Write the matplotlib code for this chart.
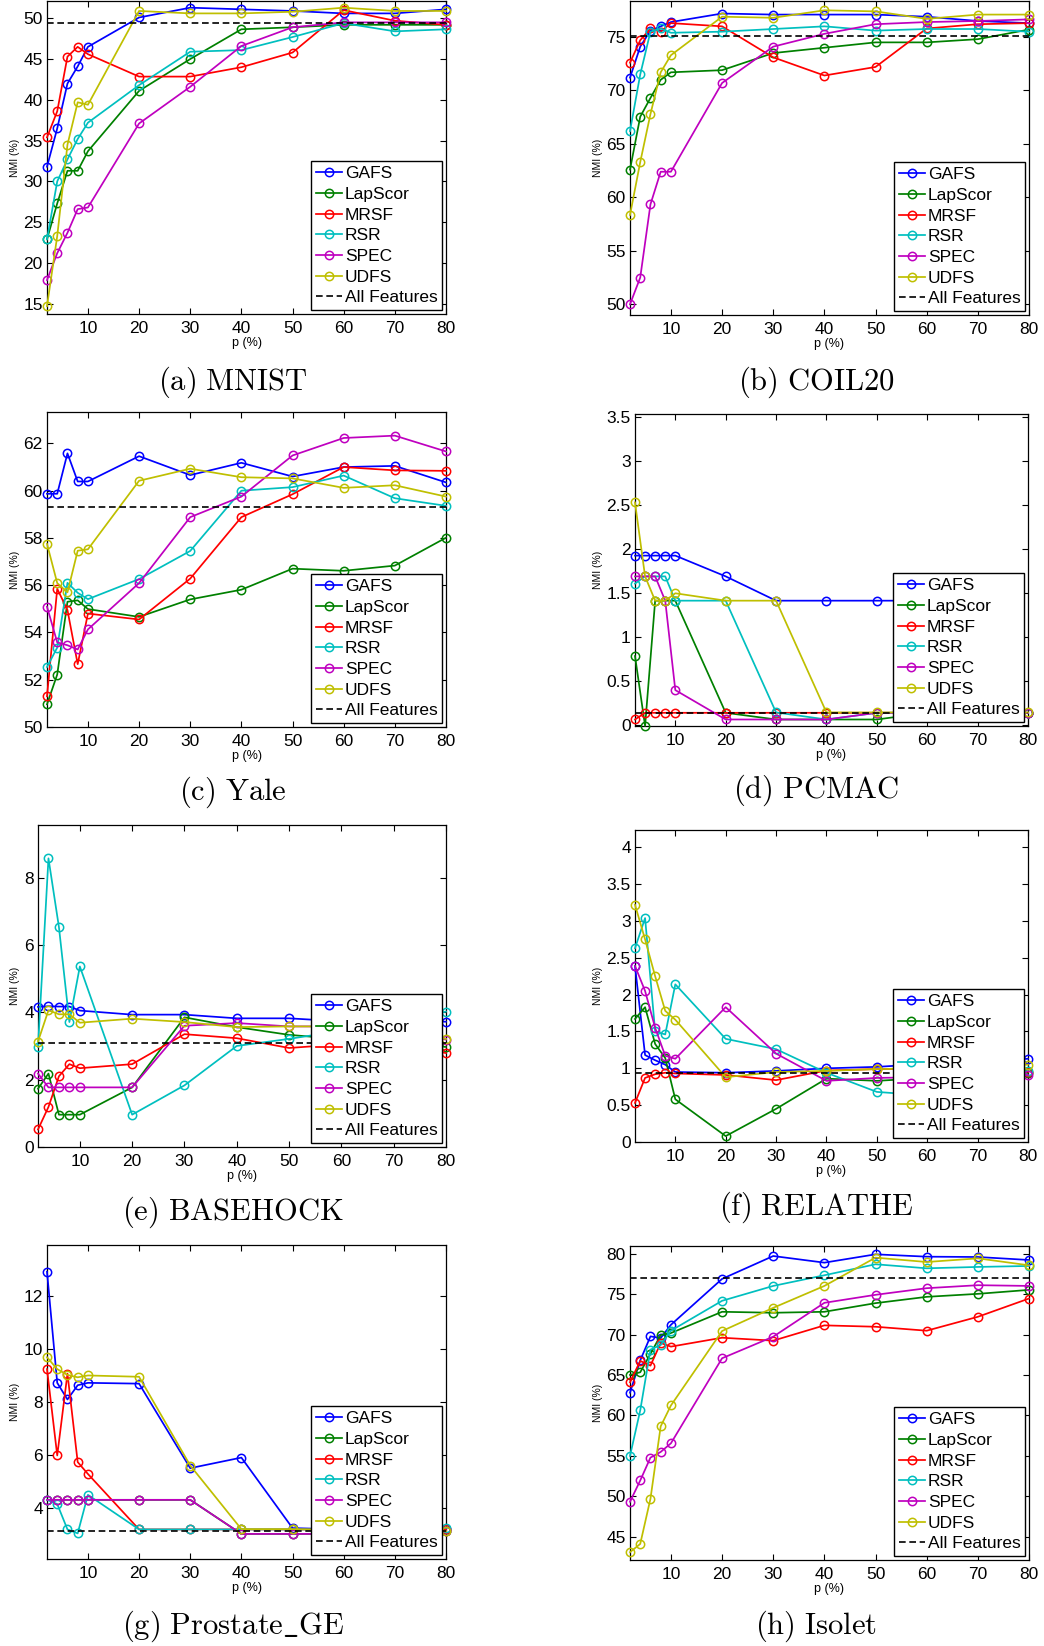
import matplotlib
matplotlib.use("Agg")
import matplotlib.pyplot as plt
import numpy as np

plt.rcParams["font.family"] = ["Liberation Sans", "DejaVu Sans"]
plt.rcParams["mathtext.fontset"] = "cm"

# Percentage of selected features
p_pct = [2, 4, 6, 8, 10, 20, 30, 40, 50, 60, 70, 80]
methods = ["GAFS", "LapScor", "MRSF", "RSR", "SPEC", "UDFS"]
colors = ["#0000ff", "#008000", "#ff0000", "#00bfbf", "#bf00bf", "#bfbf00"]

# (a) MNIST
mnist_gafs = [31.8, 36.5, 42.0, 44.1, 46.5, 50.1, 51.3, 51.1, 50.9, 50.6, 50.6, 51.1]
mnist_lap = [22.9, 27.3, 31.3, 31.3, 33.7, 41.1, 45.0, 48.65, 48.9, 49.2, 49.2, 49.2]
mnist_mrsf = [35.4, 38.6, 45.3, 46.5, 45.6, 42.85, 42.85, 44.0, 45.8, 51.0, 49.7, 49.2]
mnist_rsr = [22.9, 30.0, 32.7, 35.2, 37.2, 41.8, 45.9, 46.1, 47.7, 49.4, 48.4, 48.65]
mnist_spec = [17.9, 21.2, 23.7, 26.6, 26.8, 37.1, 41.6, 46.6, 48.9, 49.5, 49.5, 49.5]
mnist_udfs = [14.7, 23.3, 34.5, 39.7, 39.4, 50.9, 50.6, 50.6, 50.8, 51.3, 50.9, 50.9]
mnist_all = 49.43

# (b) COIL20
coil_gafs = [71.2, 74.1, 75.6, 76.0, 76.4, 77.2, 77.1, 77.1, 77.1, 76.9, 76.5, 76.3]
coil_lap = [62.6, 67.55, 69.3, 71.0, 71.7, 71.9, 73.5, 74.0, 74.5, 74.5, 74.8, 75.7]
coil_mrsf = [72.6, 74.7, 75.8, 75.5, 76.3, 76.0, 73.1, 71.4, 72.2, 75.8, 76.2, 76.3]
coil_rsr = [66.2, 71.5, 75.5, 75.8, 75.4, 75.5, 75.75, 76.0, 75.6, 75.75, 75.75, 75.5]
coil_spec = [50.0, 52.5, 59.35, 62.4, 62.4, 70.7, 74.1, 75.3, 76.2, 76.4, 76.5, 76.65]
coil_udfs = [58.35, 63.3, 67.8, 71.7, 73.3, 76.9, 76.8, 77.5, 77.4, 76.7, 77.1, 77.1]
coil_all = 75.05

# (c) Yale
yale_gafs = [59.87, 59.87, 61.58, 60.39, 60.39, 61.46, 60.66, 61.18, 60.6, 61.0, 61.05, 60.35]
yale_lap = [50.96, 52.22, 55.3, 55.36, 54.99, 54.66, 55.4, 55.81, 56.7, 56.61, 56.83, 58.01]
yale_mrsf = [51.3, 55.85, 54.95, 52.66, 54.8, 54.55, 56.28, 58.88, 59.85, 61.0, 60.86, 60.84]
yale_rsr = [52.54, 53.36, 56.1, 55.68, 55.41, 56.26, 57.45, 60.0, 60.15, 60.64, 59.68, 59.36]
yale_spec = [55.09, 53.58, 53.46, 53.28, 54.13, 56.09, 58.88, 59.75, 61.49, 62.23, 62.33, 61.66]
yale_udfs = [57.75, 56.09, 55.7, 57.46, 57.52, 60.42, 60.93, 60.57, 60.52, 60.12, 60.23, 59.75]
yale_all = 59.3

# (d) PCMAC
pcmac_gafs = [1.926, 1.926, 1.926, 1.926, 1.926, 1.69, 1.414, 1.414, 1.414, 1.414, 0.14, 0.14]
pcmac_lap = [0.785, -0.01, 1.414, 1.414, 1.414, 0.14, 0.064, 0.064, 0.064, 0.14, 0.14, 0.14]
pcmac_mrsf = [0.064, 0.14, 0.14, 0.14, 0.14, 0.14, 0.14, 0.14, 0.14, 0.14, 0.14, 0.14]
pcmac_rsr = [1.608, 1.69, 1.69, 1.69, 1.414, 1.414, 0.144, 0.064, 0.14, 0.14, 0.14, 0.14]
pcmac_spec = [1.69, 1.69, 1.69, 1.414, 0.398, 0.064, 0.064, 0.064, 0.14, 0.14, 0.14, 0.14]
pcmac_udfs = [2.53, 1.69, 1.414, 1.414, 1.498, 1.414, 1.414, 0.144, 0.144, 0.144, 0.144, 0.144]
pcmac_all = 0.14

# (e) BASEHOCK
base_gafs = [4.16, 4.18, 4.17, 4.17, 4.05, 3.93, 3.93, 3.82, 3.82, 3.73, 3.73, 3.72]
base_lap = [1.73, 2.18, 0.96, 0.96, 0.96, 1.77, 3.85, 3.56, 3.33, 3.2, 3.1, 2.97]
base_mrsf = [0.52, 1.19, 2.10, 2.46, 2.34, 2.46, 3.35, 3.23, 2.94, 3.05, 3.0, 2.79]
base_rsr = [2.97, 8.57, 6.53, 3.71, 5.36, 0.96, 1.83, 3.0, 3.21, 3.45, 3.7, 4.02]
base_spec = [2.18, 1.77, 1.77, 1.77, 1.77, 1.77, 3.6, 3.68, 3.58, 3.58, 3.4, 3.19]
base_udfs = [3.13, 4.06, 3.94, 3.94, 3.69, 3.81, 3.71, 3.56, 3.58, 3.58, 3.4, 3.21]
base_all = 3.08

# (f) RELATHE
rel_gafs = [2.39, 1.18, 1.11, 1.05, 0.95, 0.94, 0.965, 1.0, 1.02, 1.06, 1.08, 1.13]
rel_lap = [1.67, 1.83, 1.33, 1.14, 0.58, 0.08, 0.45, 0.86, 0.83, 0.87, 0.9, 0.94]
rel_mrsf = [0.53, 0.87, 0.92, 0.94, 0.93, 0.91, 0.84, 0.97, 0.99, 1.0, 0.98, 0.95]
rel_rsr = [2.63, 3.04, 1.5, 1.46, 2.14, 1.40, 1.26, 0.94, 0.68, 0.63, 0.8, 0.965]
rel_spec = [2.39, 2.05, 1.55, 1.17, 1.13, 1.83, 1.2, 0.83, 0.87, 0.88, 0.9, 0.91]
rel_udfs = [3.22, 2.75, 2.25, 1.78, 1.66, 0.88, 0.95, 0.965, 0.99, 1.0, 1.02, 1.05]
rel_all = 0.93

# (g) Prostate_GE
pros_gafs = [12.93, 8.72, 8.09, 8.63, 8.72, 8.69, 5.49, 5.89, 3.22, 3.17, 3.17, 3.18]
pros_lap = [4.29, 4.29, 4.29, 4.29, 4.29, 4.29, 4.29, 3.0, 3.0, 3.0, 3.05, 3.1]
pros_mrsf = [9.24, 5.97, 9.07, 5.72, 5.27, 3.17, 3.17, 3.17, 3.17, 3.17, 3.17, 3.17]
pros_rsr = [4.29, 4.13, 3.17, 3.02, 4.48, 3.17, 3.17, 3.17, 3.17, 3.17, 3.17, 3.22]
pros_spec = [4.29, 4.29, 4.29, 4.29, 4.29, 4.29, 4.29, 3.0, 3.0, 3.0, 3.05, 3.1]
pros_udfs = [9.69, 9.24, 9.02, 8.93, 9.0, 8.95, 5.59, 3.18, 3.18, 3.15, 3.15, 3.1]
pros_all = 3.12

# (h) Isolet
iso_gafs = [62.8, 66.8, 69.77, 69.56, 71.2, 76.88, 79.71, 78.89, 79.92, 79.63, 79.59, 79.22]
iso_lap = [65.0, 65.33, 67.6, 69.93, 70.18, 72.81, 72.69, 72.81, 73.88, 74.66, 75.03, 75.52]
iso_mrsf = [64.1, 66.73, 66.15, 68.95, 68.5, 69.6, 69.24, 71.13, 70.96, 70.47, 72.19, 74.45]
iso_rsr = [54.98, 60.61, 68.13, 68.7, 70.47, 74.17, 76.01, 77.33, 78.69, 78.19, 78.36, 78.48]
iso_spec = [49.31, 51.94, 54.77, 55.47, 56.54, 67.06, 69.73, 73.92, 74.91, 75.73, 76.1, 76.01]
iso_udfs = [43.07, 44.09, 49.68, 58.64, 61.22, 70.43, 73.3, 76.01, 79.51, 78.97, 79.42, 78.56]
iso_all = 77.04

captions = [r"(a)\ MNIST", r"(b)\ COIL20", r"(c)\ Yale", r"(d)\ PCMAC",
             r"(e)\ BASEHOCK", r"(f)\ RELATHE", r"(g)\ Prostate\_GE", r"(h)\ Isolet"]

series = [
    [mnist_gafs, mnist_lap, mnist_mrsf, mnist_rsr, mnist_spec, mnist_udfs],
    [coil_gafs, coil_lap, coil_mrsf, coil_rsr, coil_spec, coil_udfs],
    [yale_gafs, yale_lap, yale_mrsf, yale_rsr, yale_spec, yale_udfs],
    [pcmac_gafs, pcmac_lap, pcmac_mrsf, pcmac_rsr, pcmac_spec, pcmac_udfs],
    [base_gafs, base_lap, base_mrsf, base_rsr, base_spec, base_udfs],
    [rel_gafs, rel_lap, rel_mrsf, rel_rsr, rel_spec, rel_udfs],
    [pros_gafs, pros_lap, pros_mrsf, pros_rsr, pros_spec, pros_udfs],
    [iso_gafs, iso_lap, iso_mrsf, iso_rsr, iso_spec, iso_udfs],
]
baselines = [mnist_all, coil_all, yale_all, pcmac_all, base_all, rel_all, pros_all, iso_all]

ylims = [(13.74, 52.12), (49.0, 78.37), (50.0, 63.33), (-0.01, 3.535),
         (0.0, 9.56), (0.0, 4.235), (2.05, 13.94), (42.1, 80.95)]
yticks = [np.arange(15, 51, 5), np.arange(50, 76, 5), np.arange(50, 63, 2),
          np.arange(0, 3.6, 0.5), np.arange(0, 9, 2), np.arange(0, 4.1, 0.5),
          np.arange(4, 13, 2), np.arange(45, 81, 5)]

# Axes boxes in pixels: left, right, top, bottom
boxes = [(47, 446, 1, 314), (630, 1029, 1, 315),
         (47, 446, 412, 727), (635, 1028, 414, 726),
         (38, 446, 825, 1147), (635, 1028, 830, 1142),
         (47, 446, 1245, 1559), (630, 1029, 1246, 1560)]
caption_xy = [(233, 382), (816, 382), (233, 792), (816, 790),
              (233, 1212), (816, 1207), (233, 1626), (816, 1626)]
ylabel_x = [15, 598, 15, 598, 15, 598, 15, 598]

W, H = 1044, 1646
fig = plt.figure(figsize=(W / 100, H / 100), dpi=100)


def fmt_tick(v):
    return ("%g" % v)


for i in range(8):
    L, R, T, B = boxes[i]
    ax = fig.add_axes([L / W, 1 - B / H, (R - L) / W, (B - T) / H])
    for name, col, vals in zip(methods, colors, series[i]):
        ax.plot(p_pct, vals, color=col, lw=1.25, marker="o", ms=6.0,
                mfc="none", mew=1.1, label=name, clip_on=False, zorder=3)
    ax.axhline(baselines[i], color="black", lw=1.2, ls=(0, (4, 2.2)),
               label="All Features", zorder=4)
    ax.set_xlim(2, 80)
    ax.set_ylim(*ylims[i])
    ax.set_xticks([10, 20, 30, 40, 50, 60, 70, 80])
    ax.set_yticks(yticks[i])
    ax.set_yticklabels([fmt_tick(v) for v in yticks[i]])
    ax.tick_params(direction="in", top=True, right=True, length=4.5,
                   width=0.8, labelsize=12.5, pad=3)
    ax.tick_params(axis="x", pad=5)
    for s in ax.spines.values():
        s.set_linewidth(0.9)
    leg = ax.legend(loc="lower right", fontsize=12.5, numpoints=1,
                    handlelength=1.5, handletextpad=0.17, labelspacing=0.32,
                    borderpad=0.27, borderaxespad=0.22, fancybox=False,
                    framealpha=1, edgecolor="black")
    leg.get_frame().set_linewidth(1.0)
    leg.set_zorder(10)
    # axis titles
    fig.text(ylabel_x[i] / W, 1 - ((T + B) / 2) / H, "NMI (%)", rotation=90,
             ha="center", va="center", fontsize=7.5)
    fig.text(((L + R) / 2) / W, 1 - (B + 29) / H, "p (%)",
             ha="center", va="center", fontsize=9)
    cx, cy = caption_xy[i]
    fig.text(cx / W, 1 - cy / H, r"$\mathrm{" + captions[i] + "}$",
             ha="center", va="center", fontsize=22)

fig.savefig("out.png", dpi=100)
